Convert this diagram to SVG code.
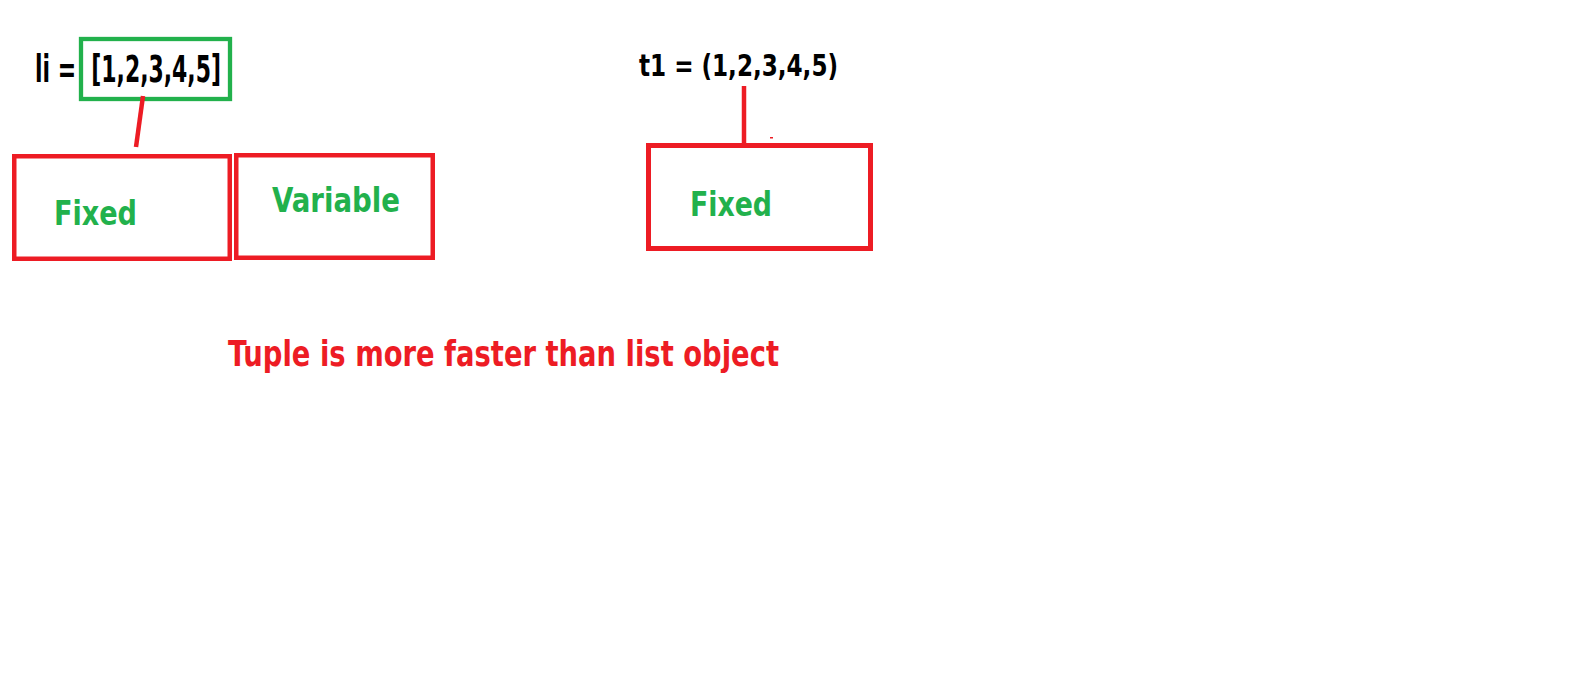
<svg xmlns="http://www.w3.org/2000/svg" width="1589" height="677" viewBox="0 0 1589 677">
<style>
.t{font-family:"Liberation Sans Narrow","DejaVu Sans Condensed","Liberation Sans",sans-serif;font-weight:bold}
.k{fill:#000}
.g{fill:#22B14C}
.r{fill:#ED1C24}
.box{fill:none;stroke:#ED1C24;stroke-width:4.5}
.gbox{fill:none;stroke:#22B14C;stroke-width:4.3}
.ln{stroke:#ED1C24;stroke-width:4.5;fill:none}
</style>
<rect width="1589" height="677" fill="#fff"/>
<g id="list-literal">
<rect class="gbox" x="81" y="39" width="149" height="60"/>
<text class="t k" x="35" y="82" font-size="37" textLength="186" lengthAdjust="spacingAndGlyphs" xml:space="preserve" style="white-space:pre">li =  [1,2,3,4,5]</text>
</g>
<g id="list-fixed">
<rect class="box" x="14.25" y="156.25" width="215.5" height="102.5"/>
<text class="t g" x="54" y="225" font-size="34" textLength="83" lengthAdjust="spacingAndGlyphs">Fixed</text>
</g>
<g id="list-variable">
<rect class="box" x="236.25" y="155.25" width="196.5" height="102.5"/>
<text class="t g" x="272" y="212" font-size="33" textLength="128" lengthAdjust="spacingAndGlyphs">Variable</text>
</g>
<g id="tuple-literal">
<text class="t k" x="639" y="76" font-size="31" textLength="199" lengthAdjust="spacingAndGlyphs">t1 = (1,2,3,4,5)</text>
</g>
<g id="tuple-fixed">
<rect class="box" x="648.5" y="145.5" width="222" height="103" style="stroke-width:5"/>
<text class="t g" x="690" y="216" font-size="33" textLength="82" lengthAdjust="spacingAndGlyphs">Fixed</text>
</g>
<g id="note">
<text class="t r" x="228" y="366" font-size="36" textLength="551" lengthAdjust="spacingAndGlyphs">Tuple is more faster than list object</text>
</g>
<g id="connectors">
<line class="ln" x1="143" y1="96" x2="136" y2="147"/>
<line class="ln" x1="744" y1="86" x2="744" y2="145"/>
<rect x="770" y="137" width="3" height="1.5" fill="#ED1C24"/>
</g>
</svg>
